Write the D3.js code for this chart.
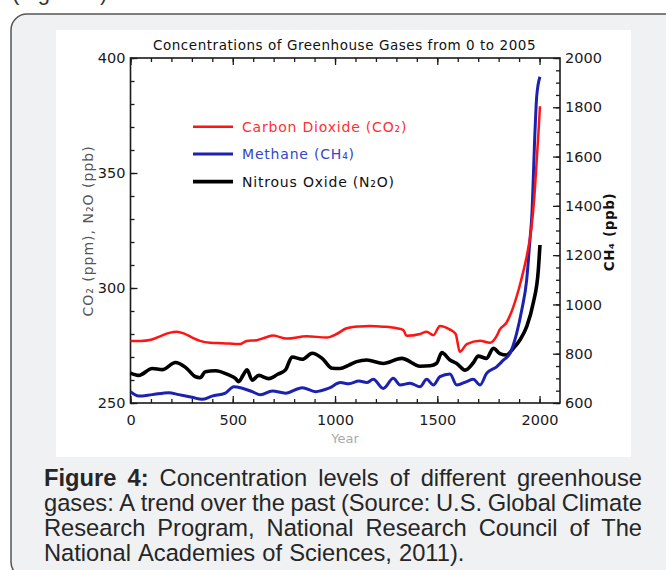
<!DOCTYPE html>
<html><head><meta charset="utf-8">
<script src="https://cdn.jsdelivr.net/npm/d3@7"></script>
<style>html,body{margin:0;padding:0;background:#fff;}svg{display:block;}</style>
</head><body>
<script>
// ---------- data ----------
const co2Years = [0,50,100,144,190,226,260,300,340,389,450,535,568,617,660,698,763,861,959,1008,1057,1122,1171,1236,1302,1334,1350,1416,1448,1481,1513,1560,1590,1610,1644,1709,1758,1790,1806,1839,1860,1880,1900,1920,1940,1960,1975,1985,1995,2002];
const co2Values = [277,277,277.5,279,280.5,281,280.3,278.5,277,276.2,276,275.6,277,277.3,278.5,279.3,278,279,278.5,280,282.5,283.3,283.5,283.2,282.5,281.7,279.2,280,281,279.5,283.5,282,280,272.3,275.6,277.1,276.2,279.1,282,285,289,294,300,307,315,326,340,354,368,379];

const ch4Years = [0,40,106,187,236,301,350,399,464,505,546,595,636,693,758,840,905,970,1027,1068,1117,1155,1187,1236,1285,1318,1367,1416,1448,1481,1513,1562,1595,1644,1676,1709,1741,1790,1823,1855,1888,1913,1937,1953,1962,1978,1986,2002];
const ch4Values = [646,628,634,642,634,623,615,628,640,666,660,646,633,649,640,662,646,660,683,678,689,683,696,659,700,673,680,666,696,673,707,718,673,687,696,673,720,747,774,801,883,977,1099,1261,1356,1708,1843,1924];

const n2oYears = [0,40,106,155,220,269,318,340,366,415,480,513,529,550,570,595,627,676,720,758,790,840,888,937,986,1024,1068,1106,1155,1236,1326,1416,1465,1497,1522,1562,1595,1636,1676,1700,1741,1774,1806,1839,1872,1904,1937,1969,1994,2002];
const n2oValues = [263,262,265,264.5,267.6,265.5,261.4,261,263.6,264,262.2,260.7,259.3,262,264.4,259.9,262,260.6,262.5,264.4,270,269,271.6,269.4,265.1,265,266.5,268,268.7,267.2,269.4,266,266.2,267.3,271.9,268.7,267.2,264.3,267.5,270.4,269.4,273.8,271.5,270.9,273.8,277.4,283.2,293.4,307.8,318.7];

const xTicks = [0,500,1000,1500,2000];
const leftTicks = [250,300,350,400];
const rightTicks = [600,800,1000,1200,1400,1600,1800,2000];
const legendLabels = ["Carbon Dioxide (CO\u2082)","Methane (CH\u2084)","Nitrous Oxide (N\u2082O)"];
const chartTitle = "Concentrations of Greenhouse Gases from 0 to 2005";
const captionLines = [
  ["Figure","4:","Concentration","levels","of","different","greenhouse"],
  ["gases:","A","trend","over","the","past","(Source:","U.S.","Global","Climate"],
  ["Research","Program,","National","Research","Council","of","The"],
  ["National","Academies","of","Sciences,","2011)."]
];

// ---------- drawing ----------
const W = 666, H = 570;
const svg = d3.select("body").append("svg").attr("width", W).attr("height", H);
svg.append("rect").attr("width", W).attr("height", H).attr("fill", "#fff");

// partially visible text line above the panel (cut by the page edge as in the reference)
svg.append("text").attr("x", 12).attr("y", 0)
  .attr("font-family", "Liberation Sans, Arial, sans-serif").attr("font-size", 22)
  .attr("fill", "#333").text("(Figure 4)");

// rounded panel
const bx0 = 11, by0 = 14, bx1 = 700, by1 = 578, r = 16;
svg.append("path")
  .attr("d", `M${bx0},${by0 + r} A${r},${r} 0 0 1 ${bx0 + r},${by0} L${bx1},${by0} L${bx1},${by1} L${bx0 + r},${by1} A${r},${r} 0 0 1 ${bx0},${by1 - r} Z`)
  .attr("fill", "#f0f1f3").attr("stroke", "#555").attr("stroke-width", 1.5);

// white chart image
svg.append("rect").attr("x", 56).attr("y", 30).attr("width", 575).attr("height", 427).attr("fill", "#fff");

const x = d3.scaleLinear([0, 2100], [130.5, 560]);
const yL = d3.scaleLinear([250, 400], [403, 58]);
const yR = d3.scaleLinear([600, 2000], [403, 58]);

const chartFont = "DejaVu Sans, sans-serif";
const axisColor = "#1a1a1a";

function styleAxis(g) {
  g.select(".domain").remove();
  g.selectAll("line").attr("stroke", axisColor).attr("stroke-width", 1.3);
  g.selectAll("text").attr("font-family", chartFont).attr("font-size", 14.5).attr("fill", "#1a1a1a");
}

// minor ticks
const minorX = d3.range(0, 2001, 100);
const minorL = d3.range(250, 401, 10);
const minorR = d3.range(600, 2001, 50);

svg.append("g").attr("transform", "translate(0,403)")
  .call(d3.axisBottom(x).tickValues(minorX).tickSize(-4).tickFormat(""))
  .call(styleAxis);
svg.append("g").attr("transform", "translate(0,58)")
  .call(d3.axisTop(x).tickValues(minorX).tickSize(-4).tickFormat(""))
  .call(styleAxis);
svg.append("g").attr("transform", "translate(130.5,0)")
  .call(d3.axisLeft(yL).tickValues(minorL).tickSize(-4).tickFormat(""))
  .call(styleAxis);
svg.append("g").attr("transform", "translate(560,0)")
  .call(d3.axisRight(yR).tickValues(minorR).tickSize(-4).tickFormat(""))
  .call(styleAxis);

// major ticks + labels
svg.append("g").attr("transform", "translate(0,403)")
  .call(d3.axisBottom(x).tickValues(xTicks).tickSize(-7).tickPadding(12).tickFormat(d3.format("d")))
  .call(styleAxis);
svg.append("g").attr("transform", "translate(0,58)")
  .call(d3.axisTop(x).tickValues(xTicks).tickSize(-7).tickFormat(""))
  .call(styleAxis);
svg.append("g").attr("transform", "translate(130.5,0)")
  .call(d3.axisLeft(yL).tickValues(leftTicks).tickSize(-7).tickPadding(5).tickFormat(d3.format("d")))
  .call(styleAxis);
svg.append("g").attr("transform", "translate(560,0)")
  .call(d3.axisRight(yR).tickValues(rightTicks).tickSize(-7).tickPadding(5).tickFormat(d3.format("d")))
  .call(styleAxis);

// frame
svg.append("rect").attr("x", 130.5).attr("y", 58).attr("width", 560 - 130.5).attr("height", 403 - 58)
  .attr("fill", "none").attr("stroke", axisColor).attr("stroke-width", 1.6);

// series
const lineL = d3.line().x(d => x(d[0])).y(d => yL(d[1])).curve(d3.curveMonotoneX);
const lineR = d3.line().x(d => x(d[0])).y(d => yR(d[1])).curve(d3.curveMonotoneX);
const co2 = d3.zip(co2Years, co2Values), ch4 = d3.zip(ch4Years, ch4Values), n2o = d3.zip(n2oYears, n2oValues);

svg.append("path").datum(n2o).attr("d", lineL).attr("fill", "none").attr("stroke", "#000").attr("stroke-width", 3.6).attr("stroke-linejoin", "round");
svg.append("path").datum(ch4).attr("d", lineR).attr("fill", "none").attr("stroke", "#1c22b0").attr("stroke-width", 3).attr("stroke-linejoin", "round");
svg.append("path").datum(co2).attr("d", lineL).attr("fill", "none").attr("stroke", "#ff1414").attr("stroke-width", 2.5).attr("stroke-linejoin", "round");

// title
svg.append("text").attr("x", 344.5).attr("y", 45).attr("text-anchor", "middle").attr("dominant-baseline", "central")
  .attr("font-family", chartFont).attr("font-size", 13.5).attr("letter-spacing", 0.55).attr("fill", "#111").text(chartTitle);

// legend
const legColors = ["#ff1414", "#1c22b0", "#000"];
const legText = ["#ff3030", "#3346c8", "#111"];
const legW = [2.4, 2.8, 3.8];
const legY = [126.7, 154, 181.7];
legendLabels.forEach((lab, i) => {
  svg.append("line").attr("x1", 193).attr("x2", 233).attr("y1", legY[i]).attr("y2", legY[i])
    .attr("stroke", legColors[i]).attr("stroke-width", legW[i]);
  svg.append("text").attr("x", 242).attr("y", legY[i]).attr("dominant-baseline", "central")
    .attr("font-family", chartFont).attr("font-size", 14).attr("letter-spacing", 0.8).attr("fill", legText[i]).text(lab);
});

// axis titles
svg.append("text").attr("transform", "translate(88,231) rotate(-90)").attr("text-anchor", "middle").attr("dominant-baseline", "central")
  .attr("font-family", chartFont).attr("font-size", 14).attr("letter-spacing", 1.0).attr("fill", "#555").text("CO\u2082 (ppm), N\u2082O (ppb)");
svg.append("text").attr("transform", "translate(609,232) rotate(-90)").attr("text-anchor", "middle").attr("dominant-baseline", "central")
  .attr("font-family", chartFont).attr("font-size", 13.5).attr("letter-spacing", 0.6).attr("font-weight", "bold").attr("fill", "#111").text("CH\u2084 (ppb)");
svg.append("text").attr("x", 345).attr("y", 438).attr("text-anchor", "middle").attr("dominant-baseline", "central")
  .attr("font-family", chartFont).attr("font-size", 13).attr("fill", "#aaa").text("Year");

// caption (justified)
const capX0 = 44, capX1 = 642, capFont = "Liberation Sans, Arial, sans-serif", capSize = 23.7;
const baselines = [486, 511, 536, 561];
captionLines.forEach((words, li) => {
  const g = svg.append("g");
  const nodes = words.map((w, wi) => g.append("text")
    .attr("y", baselines[li]).attr("font-family", capFont).attr("font-size", capSize)
    .attr("font-weight", (li === 0 && wi < 2) ? "bold" : "normal").attr("fill", "#262626").text(w));
  const widths = nodes.map(n => n.node().getComputedTextLength());
  const total = d3.sum(widths);
  const justify = li < captionLines.length - 1;
  const gap = justify ? (capX1 - capX0 - total) / (words.length - 1) : capSize * 0.3;
  let cx = capX0;
  nodes.forEach((n, i) => { n.attr("x", cx); cx += widths[i] + gap; });
});
</script>
</body></html>
